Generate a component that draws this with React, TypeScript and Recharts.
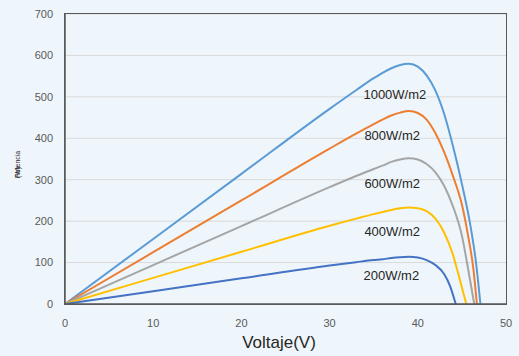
import React from "react"
import { LineChart, Line, XAxis, YAxis, CartesianGrid, ReferenceDot } from "recharts"

const volts1000 = [0, 10, 20, 30, 33, 35, 36, 37, 38, 39, 40, 41, 42, 43, 44, 45, 46, 46.6, 47.1]
const power1000 = [0, 157, 314, 471, 516, 545, 558, 569, 577, 580, 573, 552, 515, 458, 380, 290, 185, 100, 0]

const volts800 = [0, 10, 20, 30, 33, 35, 36, 37, 38, 39, 40, 41, 42, 43, 44, 45, 45.7, 46.3, 46.7]
const power800 = [0, 125, 250, 375, 411, 434, 445, 455, 462, 466, 461, 445, 412, 366, 308, 240, 165, 85, 0]

const volts600 = [0, 10, 20, 30, 33, 35, 36, 37, 38, 39, 40, 41, 42, 43, 44, 45, 45.7, 46.4]
const power600 = [0, 94, 188, 282, 309, 326, 334, 343, 349, 352, 349, 338, 318, 285, 235, 165, 85, 0]

const volts400 = [0, 10, 20, 30, 33, 35, 36, 37, 38, 39, 40, 41, 42, 43, 44, 44.5, 45, 45.5]
const power400 = [0, 63, 126, 189, 206, 217, 222, 227, 231, 233, 231, 224, 206, 172, 118, 80, 40, 0]

const volts200 = [0, 10, 20, 30, 33, 35, 36, 37, 38, 39, 40, 41, 42, 43, 43.65, 44.3]
const power200 = [0, 31, 62, 93, 101, 106, 108, 111, 113, 114, 112, 106, 94, 72, 44, 0]

const xTicks = [0, 10, 20, 30, 40, 50]
const yTicks = [0, 100, 200, 300, 400, 500, 600, 700]

const seriesNames = ["1000W/m2", "800W/m2", "600W/m2", "400W/m2", "200W/m2"]
const seriesColors = ["#5b9bd5", "#ed7d31", "#a5a5a5", "#ffc000", "#4472c4"]
// where each curve's name is written (volts, watts)
const labelVolts = [37.4, 37.1, 37.1, 37.1, 37.0]
const labelPower = [505, 406, 290, 176, 68]

const toPoints = (v: number[], p: number[]) => v.map((x, i) => ({ v: x, p: p[i] }))

const series = [
  toPoints(volts1000, power1000),
  toPoints(volts800, power800),
  toPoints(volts600, power600),
  toPoints(volts400, power400),
  toPoints(volts200, power200),
]

const font = "'Liberation Sans', Arial, sans-serif"
const bg = "#eff6fb"

export default function App() {
  return (
    <div style={{ position: "absolute", left: 0, top: 0, width: 519, height: 356, background: bg, fontFamily: font }}>
      <LineChart width={519} height={356} data={series[0]} margin={{ top: 14, right: 13, bottom: 0, left: 0 }}>
        <CartesianGrid vertical={false} stroke="#d9d9d9" strokeWidth={1} />
        <XAxis
          dataKey="v"
          type="number"
          domain={[0, 50]}
          ticks={xTicks}
          height={52}
          tickLine={false}
          tickMargin={9}
          axisLine={{ stroke: "#595959", strokeWidth: 1.5 }}
          tick={{ fontSize: 11, fill: "#595959", fontFamily: font }}
        />
        <YAxis
          dataKey="p"
          type="number"
          domain={[0, 700]}
          ticks={yTicks}
          width={65}
          tickLine={false}
          tickMargin={6}
          axisLine={{ stroke: "#595959", strokeWidth: 1.5 }}
          tick={{ fontSize: 11, fill: "#595959", fontFamily: font }}
        />
        {series.map((pts, i) => (
          <Line
            key={seriesNames[i]}
            data={pts}
            dataKey="p"
            type="monotone"
            stroke={seriesColors[i]}
            strokeWidth={2}
            dot={false}
            activeDot={false}
            isAnimationActive={false}
          />
        ))}
        {seriesNames.map((name, i) => (
          <ReferenceDot
            key={"lbl" + name}
            x={labelVolts[i]}
            y={labelPower[i]}
            r={0}
            stroke="none"
            fill="none"
            label={{ value: name, position: "center", fontSize: 13, fill: "#262626", fontFamily: font }}
          />
        ))}
      </LineChart>
      <div
        style={{
          position: "absolute",
          left: 64,
          top: 13,
          width: 441,
          height: 290,
          border: "1.5px solid #595959",
          pointerEvents: "none",
        }}
      />
      <div
        style={{
          position: "absolute",
          left: 0,
          width: 519,
          top: 333,
          textAlign: "center",
          fontSize: 17,
          color: "#262626",
          paddingLeft: 39,
          boxSizing: "border-box",
        }}
      >
        Voltaje(V)
      </div>
      <svg style={{ position: "absolute", left: 0, top: 0 }} width={30} height={356}>
        <text x={20} y={178} transform="rotate(-90 20 178)" fontSize={7} fill="#262626" fontFamily={font}>
          Potencia
        </text>
        <text x={20} y={178} transform="rotate(-90 20 178)" fontSize={7} fill="#262626" fontFamily={font}>
          (W)
        </text>
      </svg>
    </div>
  )
}
